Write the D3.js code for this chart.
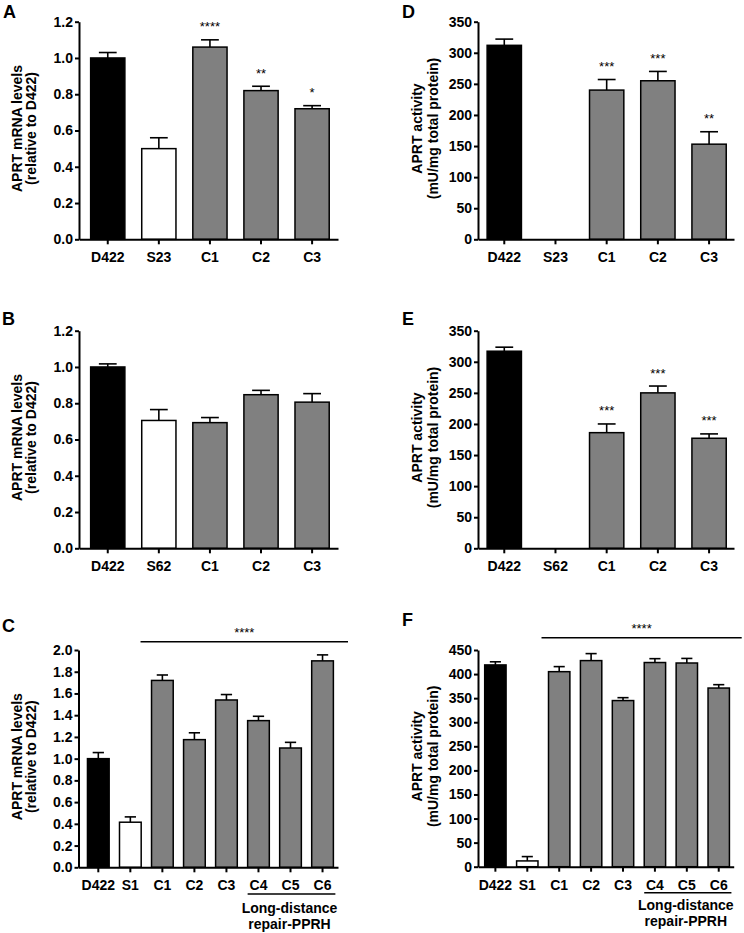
<!DOCTYPE html>
<html>
<head>
<meta charset="utf-8">
<script src="https://cdn.jsdelivr.net/npm/d3@7"></script>
<style>
  html, body { margin: 0; padding: 0; background: #fff; }
  svg { display: block; font-family: "Liberation Sans", Arial, sans-serif; }
</style>
</head>
<body>
<svg id="chart" width="744" height="933"></svg>
<script>
// ---------- data ----------
const catsA = ["D422", "S23", "C1", "C2", "C3"];
const mrnaA = [1.00, 0.50, 1.06, 0.82, 0.72];
const semA  = [0.03, 0.06, 0.04, 0.024, 0.017];
const starsA = ["", "", "****", "**", "*"];

const actD  = [312, 0, 240, 255, 153];
const semD  = [10, 0, 17, 15, 20];
const starsD = ["", "", "***", "***", "**"];

const catsB = ["D422", "S62", "C1", "C2", "C3"];
const mrnaB = [1.00, 0.705, 0.693, 0.847, 0.806];
const semB  = [0.017, 0.06, 0.028, 0.024, 0.047];
const starsB = ["", "", "", "", ""];

const actE  = [317, 0, 186, 250, 177];
const semE  = [6.5, 0, 14, 11, 7];
const starsE = ["", "", "***", "***", "***"];

const catsC = ["D422", "S1", "C1", "C2", "C3", "C4", "C5", "C6"];
const mrnaC = [1.00, 0.415, 1.72, 1.175, 1.54, 1.35, 1.098, 1.90];
const semC  = [0.056, 0.049, 0.05, 0.063, 0.05, 0.04, 0.052, 0.055];

const actF  = [419, 12, 405, 428, 345, 424, 423, 371];
const semF  = [6.5, 9, 10.5, 14.5, 6, 8, 9.5, 7];
const starsCF = ["", "", "", "", "", "", "", ""];

const groupStars = "****";
const groupLabel = ["Long-distance", "repair-PPRH"];
const mrnaLabel = ["APRT mRNA levels", "(relative to D422)"];
const actLabel = ["APRT activity", "(mU/mg total protein)"];

// ---------- layout ----------
const FONT = '"Liberation Sans", Arial, sans-serif';
const GRAY = "#808080";
const svg = d3.select("#chart");

const panels = [
  { letter: "A", lx: 3, ly: 18, cats: catsA, vals: mrnaA, errs: semA, stars: starsA,
    max: 1.2, step: 0.2, fmt: ".1f", label: mrnaLabel, labX: [22, 36],
    x0: 79, x1: 338, yB: 239.3, yT: 21.7, pi: 0.33, po: 0.2, align: 0.57 },
  { letter: "D", lx: 402, ly: 18, cats: catsA, vals: actD, errs: semD, stars: starsD,
    max: 350, step: 50, fmt: "d", label: actLabel, labX: [422, 437.5],
    x0: 478, x1: 734, yB: 239.3, yT: 21.7, pi: 0.33, po: 0.165, align: 0.54 },
  { letter: "B", lx: 2, ly: 325, cats: catsB, vals: mrnaB, errs: semB, stars: starsB,
    max: 1.2, step: 0.2, fmt: ".1f", label: mrnaLabel, labX: [22, 36],
    x0: 79, x1: 338, yB: 548.3, yT: 330.7, pi: 0.33, po: 0.2, align: 0.57 },
  { letter: "E", lx: 402, ly: 325, cats: catsB, vals: actE, errs: semE, stars: starsE,
    max: 350, step: 50, fmt: "d", label: actLabel, labX: [422, 437.5],
    x0: 478, x1: 734, yB: 548.3, yT: 330.7, pi: 0.33, po: 0.165, align: 0.54 },
  { letter: "C", lx: 2, ly: 632, cats: catsC, vals: mrnaC, errs: semC, stars: starsCF,
    max: 2.0, step: 0.2, fmt: ".1f", label: mrnaLabel, labX: [22, 36],
    x0: 78.5, x1: 338, yB: 867.3, yT: 650, pi: 0.323, po: 0.212, align: 0.66,
    sigY: 641.7, sigX0: -11, sigX1: 10, grpY: 894, grpText: [912.5, 928.5] },
  { letter: "F", lx: 402, ly: 626, cats: catsC, vals: actF, errs: semF, stars: starsCF,
    max: 450, step: 50, fmt: "d", label: actLabel, labX: [422, 437.5],
    x0: 478, x1: 733.7, yB: 866.7, yT: 650, pi: 0.33, po: 0.172, align: 0.61,
    sigY: 637.7, sigX0: -7, sigX1: 8, grpY: 892.7, grpText: [909.5, 925.5] }
];

function fillFor(i) { return i === 0 ? "#000" : (i === 1 ? "#fff" : GRAY); }

panels.forEach(p => {
  const g = svg.append("g");
  const x = d3.scaleBand().domain(p.cats).range([p.x0, p.x1])
    .paddingInner(p.pi).paddingOuter(p.po).align(p.align);
  const y = d3.scaleLinear().domain([0, p.max]).range([p.yB, p.yT]);
  const ticks = d3.range(0, p.max + p.step / 2, p.step);
  const bw = x.bandwidth();

  // error bars (upper only)
  p.cats.forEach((c, i) => {
    const v = p.vals[i], e = p.errs[i];
    if (v <= 0) return;
    const cx = x(c) + bw / 2;
    g.append("line").attr("x1", cx).attr("x2", cx)
      .attr("y1", y(v)).attr("y2", y(v + e))
      .attr("stroke", "#000").attr("stroke-width", 1.6);
    g.append("line").attr("x1", cx - bw * 0.26).attr("x2", cx + bw * 0.26)
      .attr("y1", y(v + e)).attr("y2", y(v + e))
      .attr("stroke", "#000").attr("stroke-width", 1.6);
  });

  // bars
  g.selectAll("rect.bar").data(p.cats.map((c, i) => ({ c, v: p.vals[i], i })).filter(d => d.v > 0))
    .join("rect").attr("class", "bar")
    .attr("x", d => x(d.c)).attr("width", bw)
    .attr("y", d => y(d.v)).attr("height", d => y(0) - y(d.v))
    .attr("fill", d => fillFor(d.i))
    .attr("stroke", "#000").attr("stroke-width", 1.5);

  // stars
  p.cats.forEach((c, i) => {
    if (!p.stars[i]) return;
    g.append("text").attr("x", x(c) + bw / 2).attr("y", y(p.vals[i] + p.errs[i]) - 8.5)
      .attr("text-anchor", "middle").attr("font-size", 13).attr("fill", "#000")
      .text(p.stars[i]);
  });

  // y axis
  const ya = g.append("g").attr("transform", `translate(${p.x0},0)`)
    .call(d3.axisLeft(y).tickValues(ticks).tickFormat(d3.format(p.fmt))
      .tickSize(4).tickSizeOuter(0).tickPadding(2));
  ya.select(".domain").attr("stroke-width", 2);
  ya.selectAll(".tick line").attr("stroke-width", 2);
  ya.selectAll(".tick text").attr("font-family", FONT).attr("font-size", 14)
    .attr("font-weight", "bold").attr("fill", "#000");

  // x axis
  const xa = g.append("g").attr("transform", `translate(0,${p.yB})`)
    .call(d3.axisBottom(x).tickSize(5).tickSizeOuter(0).tickPadding(8));
  xa.select(".domain").attr("stroke-width", 2);
  xa.selectAll(".tick line").attr("stroke-width", 2);
  xa.selectAll(".tick text").attr("font-family", FONT).attr("font-size", 14)
    .attr("font-weight", "bold").attr("fill", "#000");

  // y label
  const cy = (p.yB + p.yT) / 2 - 2;
  p.label.forEach((t, k) => {
    g.append("text").attr("transform", `translate(${p.labX[k]},${cy}) rotate(-90)`)
      .attr("text-anchor", "middle").attr("font-size", 14).attr("font-weight", "bold")
      .attr("fill", "#000").text(t);
  });

  // panel letter
  g.append("text").attr("x", p.lx).attr("y", p.ly).attr("font-size", 18)
    .attr("font-weight", "bold").attr("fill", "#000").text(p.letter);

  // group significance line & long-distance annotation
  if (p.sigY !== undefined) {
    const sx0 = x("C1") + p.sigX0, sx1 = p.x1 + p.sigX1;
    g.append("line").attr("x1", sx0).attr("x2", sx1).attr("y1", p.sigY).attr("y2", p.sigY)
      .attr("stroke", "#000").attr("stroke-width", 1.6);
    g.append("text").attr("x", (sx0 + sx1) / 2).attr("y", p.sigY - 5)
      .attr("text-anchor", "middle").attr("font-size", 13).attr("fill", "#000")
      .text(groupStars);
    const gx0 = x("C4"), gx1 = x("C6") + bw + 2;
    g.append("line").attr("x1", gx0).attr("x2", gx1).attr("y1", p.grpY).attr("y2", p.grpY)
      .attr("stroke", "#000").attr("stroke-width", 1.6);
    groupLabel.forEach((t, k) => {
      g.append("text").attr("x", (gx0 + gx1) / 2 - 2).attr("y", p.grpText[k])
        .attr("text-anchor", "middle").attr("font-size", 14).attr("font-weight", "bold")
        .attr("fill", "#000").text(t);
    });
  }
});
</script>
</body>
</html>
